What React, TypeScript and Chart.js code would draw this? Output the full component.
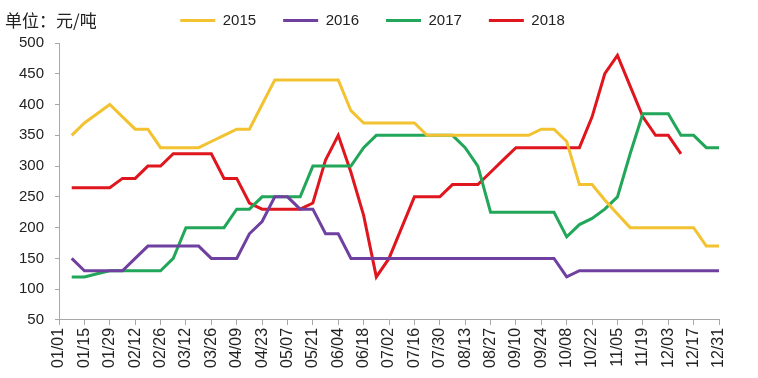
import { useEffect, useRef } from 'react';
import { Chart, registerables } from 'chart.js';

Chart.register(...registerables);

const weeks = [
  '01/01', '01/08', '01/15', '01/22', '01/29', '02/05', '02/12', '02/19', '02/26',
  '03/05', '03/12', '03/19', '03/26', '04/02', '04/09', '04/16', '04/23', '04/30',
  '05/07', '05/14', '05/21', '05/28', '06/04', '06/11', '06/18', '06/25',
  '07/02', '07/09', '07/16', '07/23', '07/30', '08/06', '08/13', '08/20', '08/27',
  '09/03', '09/10', '09/17', '09/24', '10/01', '10/08', '10/15', '10/22', '10/29',
  '11/05', '11/12', '11/19', '11/26', '12/03', '12/10', '12/17', '12/24', '12/31',
];

const seriesNames = ['2015', '2016', '2017', '2018'];

const s2015 = [null, 350, 370, 385, 400, 380, 360, 360, 330, 330, 330, 330, 340, 350, 360, 360,
  400, 440, 440, 440, 440, 440, 440, 390, 370, 370, 370, 370, 370, 350, 350, 350, 350, 350, 350,
  350, 350, 350, 360, 360, 340, 270, 270, 245, 222, 200, 200, 200, 200, 200, 200, 170, 170];

const s2016 = [null, 150, 130, 130, 130, 130, 150, 170, 170, 170, 170, 170, 150, 150, 150, 190,
  210, 250, 250, 230, 230, 190, 190, 150, 150, 150, 150, 150, 150, 150, 150, 150, 150, 150, 150,
  150, 150, 150, 150, 150, 120, 130, 130, 130, 130, 130, 130, 130, 130, 130, 130, 130, 130];

const s2017 = [null, 120, 120, 125, 130, 130, 130, 130, 130, 150, 200, 200, 200, 200, 230, 230,
  250, 250, 250, 250, 300, 300, 300, 300, 330, 350, 350, 350, 350, 350, 350, 350, 330, 300, 225,
  225, 225, 225, 225, 225, 185, 205, 215, 230, 250, 320, 385, 385, 385, 350, 350, 330, 330];

const s2018 = [null, 265, 265, 265, 265, 280, 280, 300, 300, 320, 320, 320, 320, 280, 280, 240,
  230, 230, 230, 230, 240, 310, 350, 290, 220, 120, 150, 200, 250, 250, 250, 270, 270, 270, 290,
  310, 330, 330, 330, 330, 330, 330, 380, 450, 480, 430, 380, 350, 350, 320, null, null, null];

const seriesColors = ['#F2C230', '#7040A0', '#22A65A', '#E0161E'];

const yMin = 50;
const yMax = 500;
const yStep = 50;
const unitTitle = '单位：元/吨';

export default function App() {
  const ref = useRef<HTMLCanvasElement>(null);

  useEffect(() => {
    if (!ref.current) return;
    const gray = '#A8A8A8';
    const family = "'Liberation Sans', Arial, sans-serif";
    const legendHeightPlugin = {
      id: 'legendHeight',
      afterInit(chart: any) {
        const lg = chart.legend;
        if (!lg) return;
        const orig = lg.fit.bind(lg);
        lg.fit = () => {
          orig();
          lg.height = 57;
          if (lg.lineWidths && lg.lineWidths.length) lg.lineWidths[0] -= 18;
        };
      },
    };
    const values = [s2015, s2016, s2017, s2018];
    const chart = new Chart(ref.current, {
      type: 'line',
      data: {
        labels: weeks,
        datasets: seriesNames.map((name, i) => ({
          label: name,
          data: values[i],
          borderColor: seriesColors[i],
          backgroundColor: seriesColors[i],
          borderWidth: 3,
          pointRadius: 0,
          tension: 0,
          fill: false,
        })),
      },
      options: {
        animation: false,
        responsive: false,
        layout: { padding: { top: -14, left: 8, right: 39, bottom: 7 } },
        plugins: {
          legend: {
            position: 'top',
            labels: {
              boxWidth: 35,
              boxHeight: 3,
              padding: 27,
              color: '#222',
              font: { size: 15, family },
              generateLabels: (c: any) =>
                Chart.defaults.plugins.legend.labels.generateLabels(c).map((l: any) => ({ ...l, lineWidth: 0 })),
            },
          },
          tooltip: { enabled: false },
        },
        scales: {
          x: {
            offset: false,
            grid: {
              drawOnChartArea: false,
              drawTicks: true,
              tickLength: 5,
              color: (c: any) => (c.index % 2 === 0 ? gray : 'rgba(0,0,0,0)'),
            },
            border: { color: gray, width: 1 },
            ticks: {
              autoSkip: false,
              maxRotation: 90,
              minRotation: 90,
              padding: 3,
              color: '#222',
              font: { size: 16, family },
              callback: (_v: any, i: number) => (i % 2 === 0 ? weeks[i] : ''),
            },
          },
          y: {
            min: yMin,
            max: yMax,
            grid: { drawOnChartArea: false, drawTicks: true, tickLength: 4, color: gray },
            border: { color: gray, width: 1 },
            ticks: { stepSize: yStep, padding: 11, color: '#222', font: { size: 15, family } },
          },
        },
      },
      plugins: [legendHeightPlugin],
    } as any);
    return () => chart.destroy();
  }, []);

  return (
    <div style={{ position: 'fixed', left: 0, top: 0, width: 758, height: 378, background: '#fff' }}>
      <canvas ref={ref} width={758} height={378} style={{ display: 'block' }} />
      <div
        style={{
          position: 'absolute',
          left: 5,
          top: 10,
          fontFamily: "'Noto Sans CJK SC', sans-serif",
          fontSize: 17,
          lineHeight: '20px',
          color: '#222',
          whiteSpace: 'nowrap',
        }}
      >
        {unitTitle}
      </div>
    </div>
  );
}
